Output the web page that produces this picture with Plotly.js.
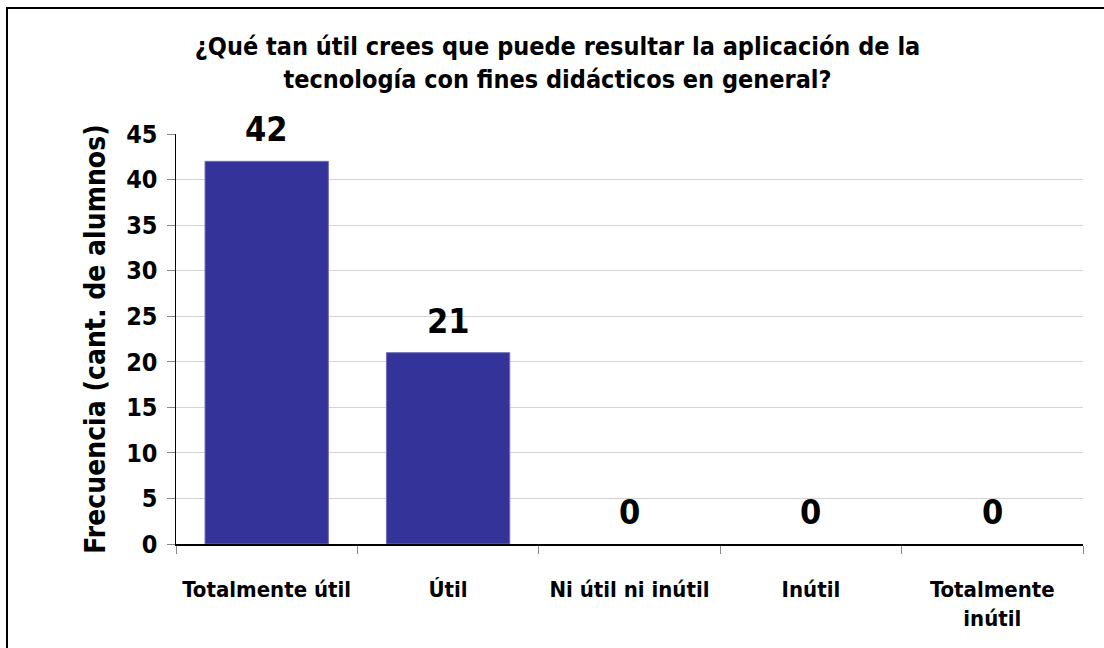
<!DOCTYPE html>
<html>
<head>
<meta charset="utf-8">
<script src="https://cdn.plot.ly/plotly-3.0.1.min.js"></script>
<style>
  body { margin: 0; background: #fff; }
  #frame { position: absolute; left: 6px; top: 7px; width: 1200px; height: 700px;
           border-left: 2px solid #000; border-top: 2px solid #000; }
  #chart { position: absolute; left: 0; top: 0; width: 1104px; height: 648px; }
</style>
</head>
<body>
<div id="frame"></div>
<div id="chart"></div>
<script>
// categorías y frecuencias
const categories = ['Totalmente útil', 'Útil', 'Ni útil ni inútil', 'Inútil', 'Totalmente<br>inútil'];
const counts = [42, 21, 0, 0, 0];
const yTicks = [0, 5, 10, 15, 20, 25, 30, 35, 40, 45];

const FONT = '"DejaVu Sans Condensed", Tahoma, "DejaVu Sans", sans-serif';

const data = [{
    x: categories,
    y: counts,
    type: 'bar',
    marker: {
        color: '#333399',
        line: { color: '#7070b8', width: counts.map(v => v > 0 ? 1 : 0) }
    },
    hoverinfo: 'skip'
}];

// etiquetas de valor sobre cada barra
const annotations = categories.map((c, i) => ({
    x: c,
    y: counts[i],
    text: String(counts[i]),
    showarrow: false,
    yanchor: 'bottom',
    yshift: 10,
    font: { family: FONT, size: 34, weight: 700, color: '#000' }
}));

const layout = {
    width: 1104,
    height: 648,
    paper_bgcolor: 'rgba(0,0,0,0)',
    plot_bgcolor: 'rgba(0,0,0,0)',
    margin: { l: 176, r: 21, t: 134, b: 104 },
    font: { family: FONT, color: '#000' },
    title: {
        text: '¿Qué tan útil crees que puede resultar la aplicación de la<br>tecnología con fines didácticos en general?',
        font: { family: FONT, size: 25, weight: 700 },
        x: 0.505,
        xanchor: 'center',
        yref: 'container',
        y: 1 - 55 / 648,
        yanchor: 'top'
    },
    bargap: 0.32,
    showlegend: false,
    xaxis: {
        type: 'category',
        tickson: 'boundaries',
        ticks: 'outside',
        ticklen: 8,
        tickcolor: '#888',
        tickangle: 0,
        ticklabelstandoff: 25,
        showline: true,
        linecolor: '#000',
        linewidth: 1.5,
        tickfont: { family: FONT, size: 22, weight: 700 }
    },
    yaxis: {
        range: [0, 45],
        tickvals: yTicks,
        ticks: 'outside',
        ticklen: 8,
        tickcolor: '#888',
        ticklabelstandoff: 4,
        showline: true,
        linecolor: '#000',
        linewidth: 1.5,
        gridcolor: '#d4d4d4',
        zeroline: false,
        tickfont: { family: FONT, size: 25, weight: 700 },
        title: {
            text: 'Frecuencia (cant. de alumnos)',
            font: { family: FONT, size: 28, weight: 700 },
            standoff: 12
        }
    },
    annotations: annotations
};

Plotly.newPlot('chart', data, layout, { displayModeBar: false, staticPlot: true });
</script>
</body>
</html>
